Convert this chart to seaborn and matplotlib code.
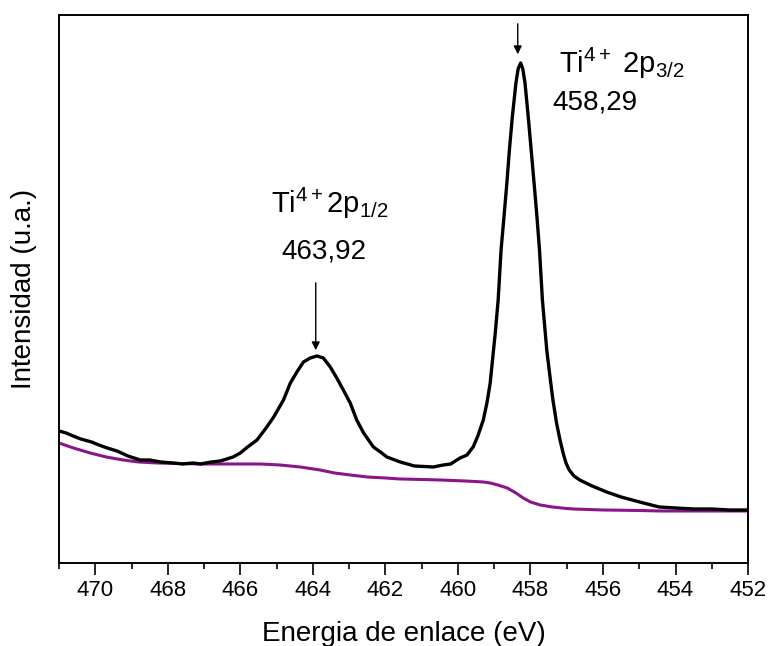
import matplotlib
matplotlib.use("Agg")
import matplotlib.pyplot as plt
import seaborn as sns
import pandas as pd
from matplotlib.ticker import MultipleLocator

# Binding energy (eV) and intensity (a.u.)
energy_spec = [471.0, 470.8, 470.61, 470.4, 470.1, 469.9, 469.67, 469.4, 469.1, 468.76, 468.5, 468.2,
               467.85, 467.6, 467.3, 467.1, 466.8, 466.55, 466.2, 466.0, 465.8, 465.54, 465.27,
               465.08, 464.81, 464.62, 464.44, 464.26, 464.07, 463.89, 463.71, 463.52, 463.34,
               463.16, 462.97, 462.79, 462.6, 462.33, 462.1, 461.96, 461.59, 461.2, 460.68,
               460.4, 460.2, 459.94, 459.75, 459.58, 459.45, 459.3, 459.2, 459.11, 458.97,
               458.89, 458.81, 458.73, 458.65, 458.58, 458.5, 458.4, 458.34, 458.27, 458.21,
               458.15, 458.06, 457.98, 457.9, 457.82, 457.75, 457.67, 457.55, 457.45, 457.38,
               457.28, 457.19, 457.1, 457.02, 456.93, 456.8, 456.64, 456.3, 455.9, 455.5, 454.99,
               454.45, 454.0, 453.5, 453.0, 452.5, 452.0]
intensity_spec = [132, 130, 127, 124, 121, 118, 115, 112, 107, 103, 103, 101,
                  100, 99, 100, 99, 101, 102, 106, 110, 116, 123, 136,
                  146, 163, 180, 191, 201, 205, 207, 205, 196, 185,
                  173, 160, 143, 130, 116, 110, 106, 101, 97, 96,
                  98, 99, 105, 108, 116, 127, 143, 160, 180, 230,
                  263, 313, 346, 380, 413, 446, 480, 494, 500, 494,
                  480, 446, 413, 380, 346, 313, 263, 213, 183, 163,
                  140, 124, 110, 100, 93, 87, 83, 77, 71, 66, 61,
                  56, 55, 54, 54, 53, 53]

energy_bg = [471.0, 470.6, 470.14, 469.7, 469.23, 468.8, 468.29, 467.7, 467.1, 466.3, 465.45,
             464.9, 464.35, 463.8, 463.4, 462.97, 462.5, 462.0, 461.59, 461.0, 460.49, 459.8,
             459.3, 459.11, 458.9, 458.64, 458.4, 458.2, 458.0, 457.73, 457.4, 457.0, 456.82,
             456.0, 455.0, 454.42, 453.0, 452.0]
intensity_bg = [120, 115, 110, 106, 103, 101, 100, 99.5, 99, 99, 99,
                98, 96, 93, 90, 88, 86, 85, 84, 83.5, 83, 82,
                81, 80, 78, 75, 70, 65, 61, 58, 56, 54.5, 54,
                53, 52.5, 52, 52, 52]

x_ticks = [470, 468, 466, 464, 462, 460, 458, 456, 454, 452]

df_spec = pd.DataFrame({"E": energy_spec, "I": intensity_spec})
df_bg = pd.DataFrame({"E": energy_bg, "I": intensity_bg})

sns.set_style("white")
plt.rcParams['font.family'] = ['Liberation Sans', 'DejaVu Sans']
plt.rcParams['mathtext.fontset'] = 'custom'
plt.rcParams['mathtext.rm'] = 'Liberation Sans'
plt.rcParams['mathtext.it'] = 'Liberation Sans'
plt.rcParams['text.color'] = 'black'
plt.rcParams['axes.labelcolor'] = 'black'
plt.rcParams['xtick.color'] = 'black'

fig = plt.figure(figsize=(7.68, 6.46), dpi=100)
ax = fig.add_axes([0.0768, 0.1285, 0.974 - 0.0768, 0.9768 - 0.1285])

sns.lineplot(data=df_bg, x="E", y="I", ax=ax, color="#8B1489", linewidth=2.2)
sns.lineplot(data=df_spec, x="E", y="I", ax=ax, color="black", linewidth=2.4)

ax.set_xlim(471, 452)
ax.set_ylim(0, 548)
ax.set_xticks(x_ticks)
ax.set_xticklabels([str(t) for t in x_ticks])
ax.xaxis.set_minor_locator(MultipleLocator(1))
ax.set_yticks([])
ax.tick_params(axis='x', which='major', direction='out', length=8.5, width=1.2,
               labelsize=16, pad=4, bottom=True, labelcolor='black')
ax.tick_params(axis='x', which='minor', direction='out', length=4, width=1.2, bottom=True)
for s in ax.spines.values():
    s.set_visible(True)
    s.set_color("black")
    s.set_linewidth(1.4)

ax.set_xlabel("Energia de enlace (eV)", fontsize=20, labelpad=14, color='black')
ax.set_ylabel("Intensidad (u.a.)", fontsize=20, labelpad=16, color='black')

# Annotations
ax.annotate("", xy=(458.35, 506), xytext=(458.35, 542),
            arrowprops=dict(arrowstyle="-|>", color="black", lw=1.0, mutation_scale=12))
ax.annotate("", xy=(463.92, 210), xytext=(463.92, 283),
            arrowprops=dict(arrowstyle="-|>", color="black", lw=1.0, mutation_scale=12))

ax.text(457.2, 500, r"Ti$^{4+}$ 2p$_{3/2}$", fontsize=21, ha="left", va="center", color='black')
ax.text(457.4, 460, "458,29", fontsize=20, ha="left", va="center", color='black')
ax.text(465.15, 360, r"Ti$^{4+}$2p$_{1/2}$", fontsize=21, ha="left", va="center", color='black')
ax.text(464.88, 311, "463,92", fontsize=20, ha="left", va="center", color='black')

fig.savefig("out.png", dpi=100)
